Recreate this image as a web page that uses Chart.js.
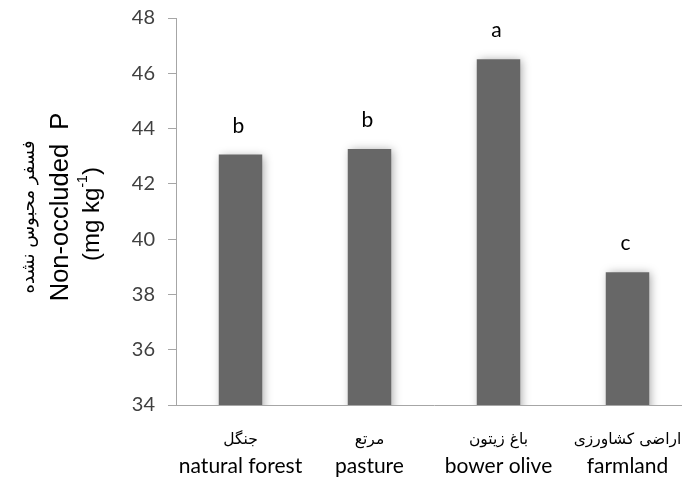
<!DOCTYPE html>
<html>
<head>
<meta charset="utf-8">
<script src="https://cdn.jsdelivr.net/npm/chart.js@4"></script>
<style>
html,body{margin:0;padding:0;background:#fff;overflow:hidden;}
#wrap{width:700px;height:479px;}
</style>
</head>
<body>
<div id="wrap"><canvas id="c" width="700" height="479"></canvas></div>
<script>
const categoriesFa = ["جنگل", "مرتع", "باغ زیتون", "اراضی کشاورزی"];
const categoriesEn = ["natural forest", "pasture", "bower olive", "farmland"];
const values = [43.06, 43.26, 46.51, 38.80];
const letters = ["b", "b", "a", "c"];
const yTicks = [34, 36, 38, 40, 42, 44, 46, 48];
const yTitleFa = "فسفر محبوس نشده";
const yTitleEn = "Non-occluded  P";
const yUnitMain = "(mg kg";
const yUnitSup = "-1";

const shadowPlugin = {
  id: 'shadow',
  beforeDatasetsDraw(chart) {
    const ctx = chart.ctx;
    ctx.save();
    ctx.shadowColor = 'rgba(0,0,0,0.35)';
    ctx.shadowBlur = 9;
    ctx.shadowOffsetX = 2;
    ctx.shadowOffsetY = 1;
  },
  afterDatasetsDraw(chart) {
    chart.ctx.restore();
  }
};

const lettersPlugin = {
  id: 'letters',
  afterDatasetsDraw(chart) {
    const ctx = chart.ctx;
    const meta = chart.getDatasetMeta(0);
    ctx.save();
    ctx.fillStyle = '#000';
    ctx.font = '21px Lato, "Liberation Sans", sans-serif';
    ctx.textAlign = 'center';
    ctx.textBaseline = 'alphabetic';
    meta.data.forEach((bar, i) => {
      ctx.fillText(letters[i], bar.x - 2, bar.y - 22);
    });
    ctx.restore();
  }
};

const faLabelsPlugin = {
  id: 'falabels',
  afterDraw(chart) {
    const ctx = chart.ctx;
    const xs = chart.scales.x;
    ctx.save();
    ctx.fillStyle = '#000';
    ctx.font = '15.5px "DejaVu Sans", sans-serif';
    ctx.textAlign = 'center';
    ctx.textBaseline = 'middle';
    categoriesFa.forEach((t, i) => {
      ctx.fillText(t, xs.getPixelForValue(i), xs.top + 35);
    });
    ctx.restore();
  }
};

const yTitlePlugin = {
  id: 'ytitle',
  afterDraw(chart) {
    const ctx = chart.ctx;
    const cy = 210;
    ctx.save();
    ctx.fillStyle = '#000';
    ctx.textBaseline = 'middle';
    // Persian line
    ctx.save();
    ctx.translate(29, cy + 7);
    ctx.rotate(-Math.PI / 2);
    ctx.textAlign = 'center';
    ctx.font = '18px "DejaVu Sans", sans-serif';
    ctx.fillText(yTitleFa, 0, 0);
    ctx.restore();
    // English line
    ctx.save();
    ctx.translate(61, cy - 3);
    ctx.rotate(-Math.PI / 2);
    ctx.textAlign = 'center';
    ctx.font = '25.5px "Liberation Sans", Arial, sans-serif';
    ctx.fillText(yTitleEn, 0, 0);
    ctx.restore();
    // Unit line with superscript
    ctx.save();
    ctx.translate(92, cy + 4);
    ctx.rotate(-Math.PI / 2);
    ctx.font = '24px "Liberation Sans", Arial, sans-serif';
    const wMain = ctx.measureText(yUnitMain).width;
    ctx.font = '14px "Liberation Sans", Arial, sans-serif';
    const wSup = ctx.measureText(yUnitSup).width;
    ctx.font = '24px "Liberation Sans", Arial, sans-serif';
    const wClose = ctx.measureText(")").width;
    const total = wMain + wSup + wClose;
    let x = -total / 2;
    ctx.textAlign = 'left';
    ctx.fillText(yUnitMain, x, 0);
    x += wMain;
    ctx.font = '14px "Liberation Sans", Arial, sans-serif';
    ctx.fillText(yUnitSup, x, -9);
    x += wSup;
    ctx.font = '24px "Liberation Sans", Arial, sans-serif';
    ctx.fillText(")", x, 0);
    ctx.restore();
    ctx.restore();
  }
};

new Chart(document.getElementById('c'), {
  type: 'bar',
  data: {
    labels: categoriesEn,
    datasets: [{
      data: values,
      backgroundColor: '#676767',
      borderWidth: 0,
      barPercentage: 0.337,
      categoryPercentage: 1.0
    }]
  },
  options: {
    responsive: false,
    animation: false,
    devicePixelRatio: 1,
    layout: { padding: { left: 0, right: 8, top: 18, bottom: 0 } },
    plugins: {
      legend: { display: false },
      tooltip: { enabled: false }
    },
    scales: {
      y: {
        min: 34,
        max: 48,
        afterFit(scale) { scale.width = 176; scale.paddingTop = 0; scale.paddingBottom = 0; },
        afterBuildTicks(scale) { scale.ticks = yTicks.map(v => ({ value: v })); },
        grid: { drawOnChartArea: false, drawTicks: true, tickLength: 8, color: '#a6a6a6', lineWidth: 1 },
        border: { color: '#a6a6a6', width: 1 },
        ticks: {
          padding: 13,
          color: '#404040',
          font: { family: 'Lato, "Liberation Sans", sans-serif', size: 20 }
        }
      },
      x: {
        afterFit(scale) { scale.height = 74; scale.paddingLeft = 0; scale.paddingRight = 0; },
        grid: { display: false, drawTicks: false },
        border: { color: '#a6a6a6', width: 1 },
        ticks: {
          padding: 49,
          color: '#000',
          maxRotation: 0,
          font: { family: 'Lato, "Liberation Sans", sans-serif', size: 21, lineHeight: 1.2 }
        }
      }
    }
  },
  plugins: [shadowPlugin, lettersPlugin, faLabelsPlugin, yTitlePlugin]
});
</script>
</body>
</html>
